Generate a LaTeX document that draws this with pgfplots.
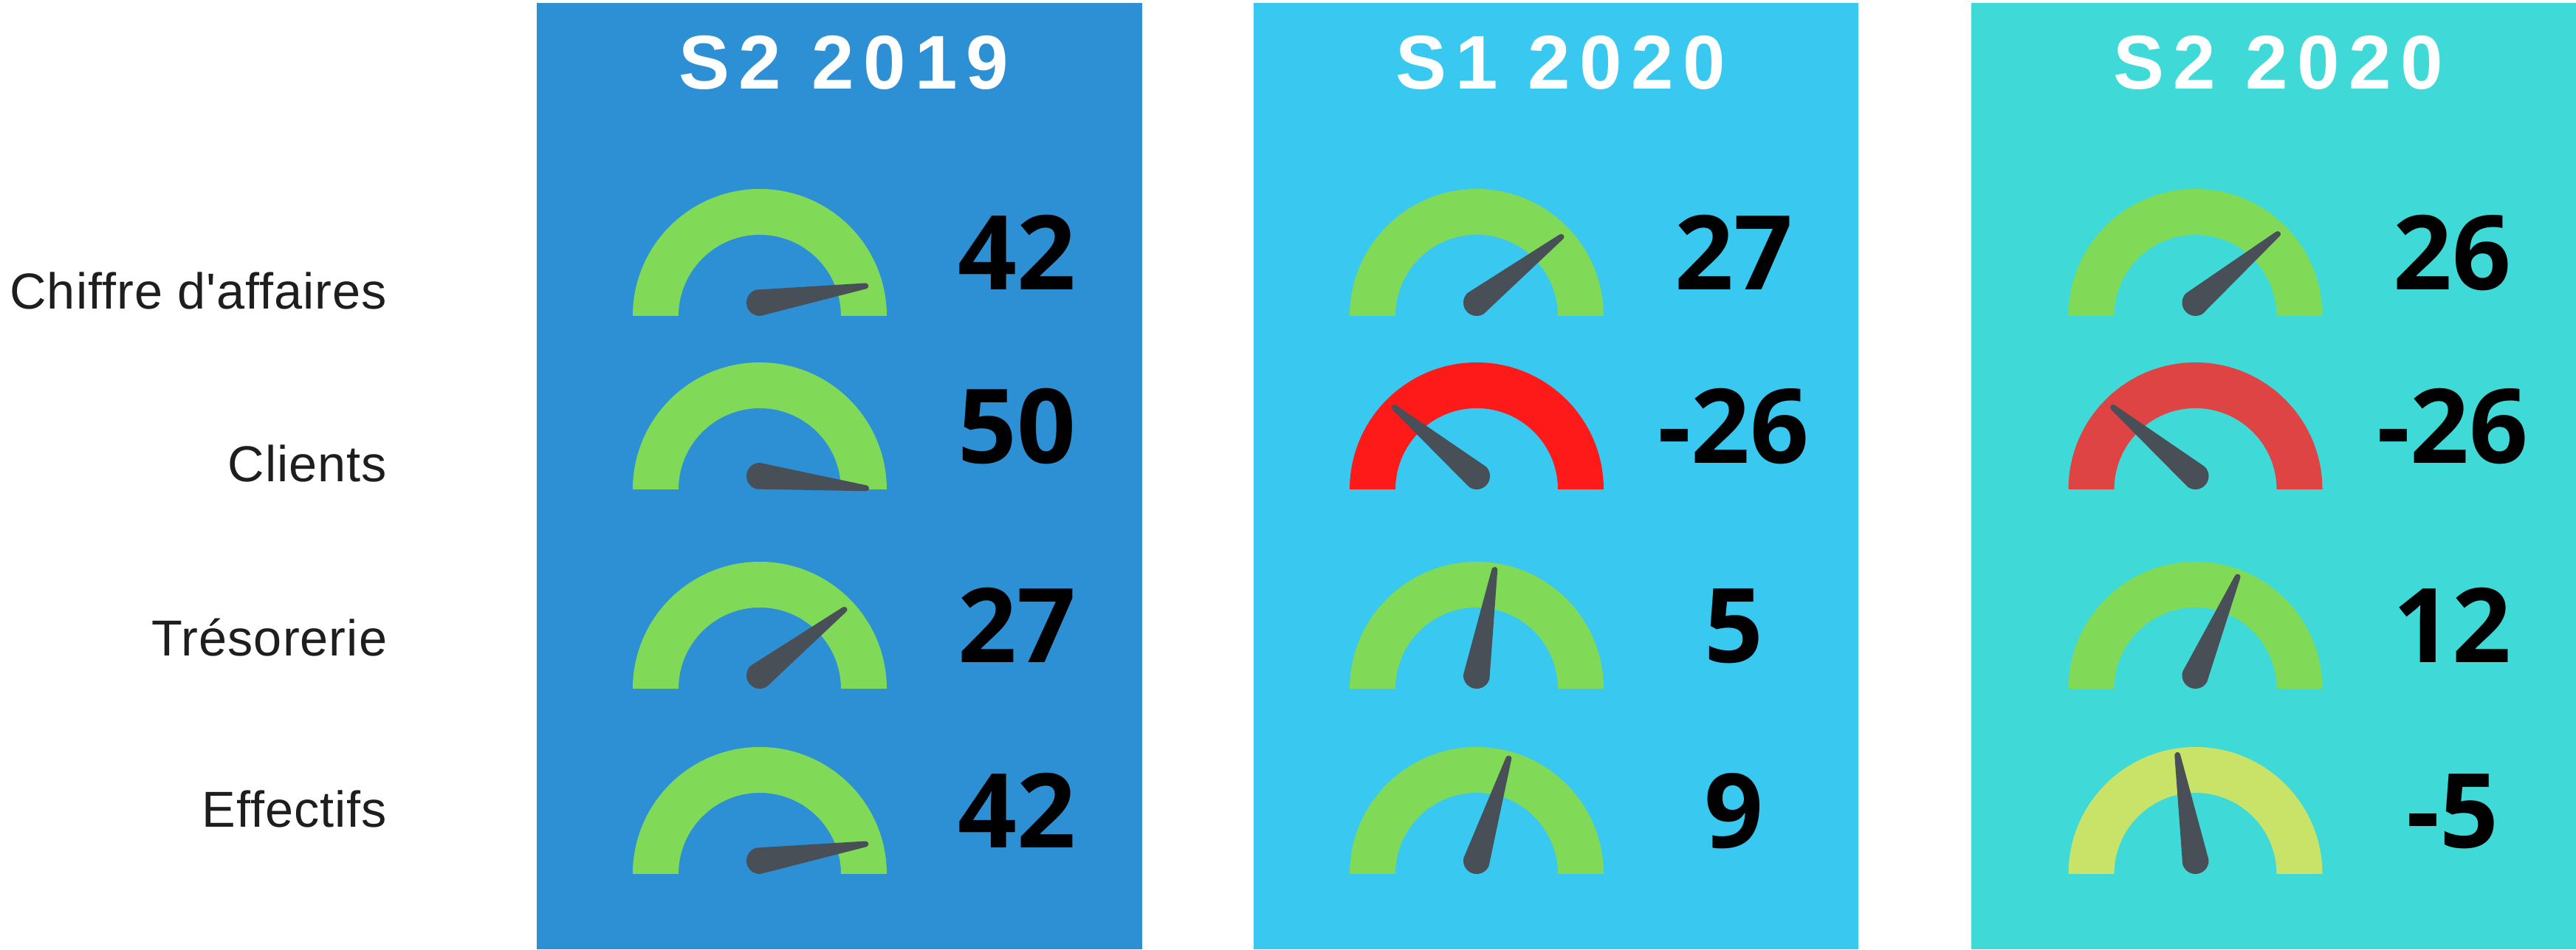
\documentclass[border=0pt]{standalone}
\usepackage{fontspec}
\setmainfont{Liberation Sans}
\newfontfamily\headfont[LetterSpace=12]{Liberation Sans Bold}
\newfontfamily\numfont{Open Sans}
\newfontfamily\labfont[LetterSpace=1.5]{Liberation Sans}
\usepackage{pgfplots}
\usepackage{pgfplotstable}
\pgfplotsset{compat=1.18}

\definecolor{panelA}{HTML}{2E90D4}
\definecolor{panelB}{HTML}{38C8F0}
\definecolor{panelC}{HTML}{3FDAD7}
\definecolor{ggreen}{HTML}{80DA58}
\definecolor{gred}{HTML}{FF1A1A}
\definecolor{gredb}{HTML}{DE4444}
\definecolor{gyellow}{HTML}{C9E268}
\definecolor{needlec}{HTML}{484F57}
\definecolor{labc}{HTML}{1E1E1E}

% gauge: semi-annulus, outer radius 172px, inner 110px (1px = 0.1mm)
\pgfdeclareplotmark{gauge}{%
  \pgfpathmoveto{\pgfpoint{-17.2mm}{0mm}}%
  \pgfpatharc{180}{0}{17.2mm}%
  \pgfpathlineto{\pgfpoint{11mm}{0mm}}%
  \pgfpatharc{0}{180}{11mm}%
  \pgfpathclose
  \pgfusepathqfill
}
% needle pointing along +x, pivot at origin
\pgfdeclareplotmark{needle}{%
  \pgfpathmoveto{\pgfpoint{-0.174mm}{1.792mm}}%
  \pgfpathlineto{\pgfpoint{14.461mm}{0.398mm}}%
  \pgfpatharc{95.54}{-95.54}{0.4mm}%
  \pgfpathlineto{\pgfpoint{-0.174mm}{-1.792mm}}%
  \pgfpatharc{-95.54}{-264.46}{1.8mm}%
  \pgfpathclose
  \pgfusepathqfill
}

% x: gauge centre, yb: gauge base line, v: value, c: colour class
\pgfplotstableread{
x yb v c
1029 858 42 g
1029 623 50 g
1029 353 27 g
1029 102 42 g
}\tabA
\pgfplotstableread{
x yb v c
2000 858 27 g
2000 623 -26 r
2000 353 5 g
2000 102 9 g
}\tabB
\pgfplotstableread{
x yb v c
2973.5 858 26 g
2973.5 623 -26 rr
2973.5 353 12 g
2973.5 102 -5 y
}\tabC

\pgfplotsset{
  gaugeplot/.style={scatter, only marks, mark=gauge,
    point meta=explicit symbolic,
    scatter/classes={g={fill=ggreen,draw=ggreen}, r={fill=gred,draw=gred},
      rr={fill=gredb,draw=gredb}, y={fill=gyellow,draw=gyellow}}},
  valueplot/.style={draw=none, mark=none,
    point meta=explicit,
    nodes near coords={\numfont\bfseries\fontsize{39.8pt}{40pt}\selectfont
      \pgfmathprintnumber[assume math mode=true, int detect]{\pgfplotspointmeta}},
    every node near coord/.append style={anchor=base, text=black, inner sep=0pt,
      xshift=34.8mm, yshift=1.75mm}},
}

% one needle per row of a table, angle from the value
\newcommand\needles[1]{%
  \pgfplotsforeachungrouped \r in {0,...,3}{%
    \pgfplotstablegetelem{\r}{x}\of#1\let\gx\pgfplotsretval
    \pgfplotstablegetelem{\r}{yb}\of#1\let\gy\pgfplotsretval
    \pgfplotstablegetelem{\r}{v}\of#1\let\gv\pgfplotsretval
    \pgfmathsetmacro\ga{90-1.93*\gv}%
    \pgfmathsetmacro\gyy{\gy+18}%
    \edef\temp{\noexpand\addplot[only marks, mark=needle, color=needlec,
      mark options={rotate=\ga, fill=needlec, draw=none}]
      coordinates {(\gx,\gyy)};}%
    \temp
  }%
}

\begin{document}
\begin{tikzpicture}
\begin{axis}[x=0.1mm, y=0.1mm, xmin=0, xmax=3489, ymin=0, ymax=1286,
  hide axis, clip=false]
  % background and panels
  \addplot[fill=white, draw=none] coordinates {(0,0) (3489,0) (3489,1286) (0,1286)} -- cycle;
  \addplot[fill=panelA, draw=none] coordinates {(727,0) (1547,0) (1547,1282) (727,1282)} -- cycle;
  \addplot[fill=panelB, draw=none] coordinates {(1698,0) (2517,0) (2517,1282) (1698,1282)} -- cycle;
  \addplot[fill=panelC, draw=none] coordinates {(2670,0) (3489,0) (3489,1282) (2670,1282)} -- cycle;

  % headers
  \node[anchor=base, text=white, inner sep=0pt, xshift=0.6mm] at (axis cs:1137,1165)
    {\headfont\fontsize{29.4pt}{30pt}\selectfont S2 2019};
  \node[anchor=base, text=white, inner sep=0pt, xshift=0.6mm] at (axis cs:2107.5,1165)
    {\headfont\fontsize{29.4pt}{30pt}\selectfont S1 2020};
  \node[anchor=base, text=white, inner sep=0pt, xshift=0.6mm] at (axis cs:3079.5,1165)
    {\headfont\fontsize{29.4pt}{30pt}\selectfont S2 2020};

  % row labels
  \node[anchor=base east, text=labc, inner sep=0pt] at (axis cs:525,867)
    {\labfont\fontsize{19.5pt}{20pt}\selectfont Chiffre d'affaires};
  \node[anchor=base east, text=labc, inner sep=0pt] at (axis cs:525,633)
    {\labfont\fontsize{19.5pt}{20pt}\selectfont Clients};
  \node[anchor=base east, text=labc, inner sep=0pt] at (axis cs:525,397.5)
    {\labfont\fontsize{19.5pt}{20pt}\selectfont Trésorerie};
  \node[anchor=base east, text=labc, inner sep=0pt] at (axis cs:525,165)
    {\labfont\fontsize{19.5pt}{20pt}\selectfont Effectifs};

  % gauges
  \addplot[gaugeplot] table[x=x, y=yb, meta=c] {\tabA};
  \addplot[gaugeplot] table[x=x, y=yb, meta=c] {\tabB};
  \addplot[gaugeplot] table[x=x, y=yb, meta=c] {\tabC};
  % needles
  \needles{\tabA}
  \needles{\tabB}
  \needles{\tabC}
  % values
  \addplot[valueplot] table[x=x, y expr=\thisrow{yb}+18, meta=v] {\tabA};
  \addplot[valueplot] table[x=x, y expr=\thisrow{yb}+18, meta=v] {\tabB};
  \addplot[valueplot] table[x=x, y expr=\thisrow{yb}+18, meta=v] {\tabC};
\end{axis}
\end{tikzpicture}
\end{document}
